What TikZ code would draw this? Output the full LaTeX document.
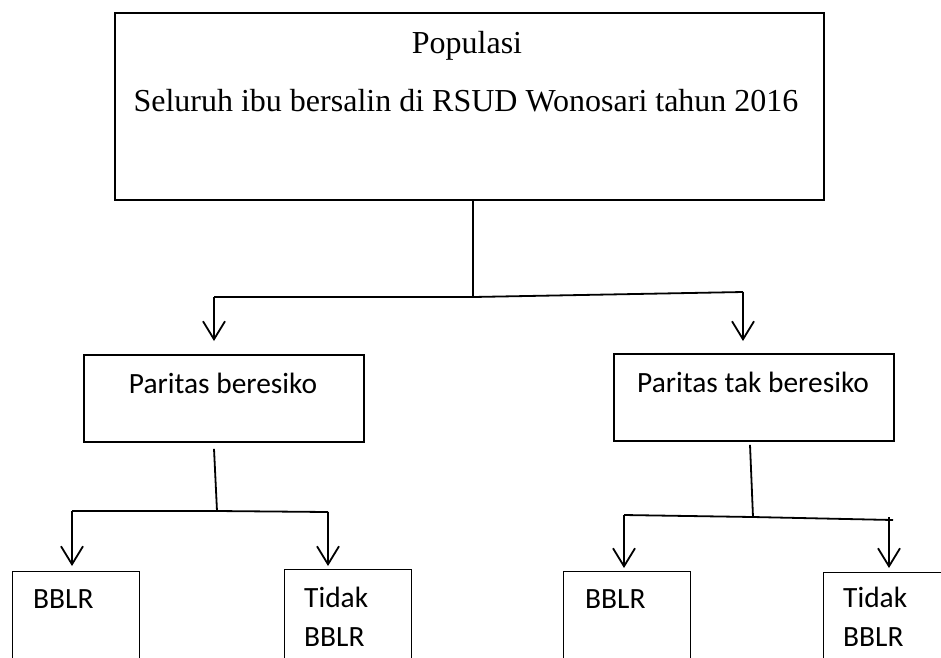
\documentclass[tikz,border=0pt]{standalone}
\usepackage{fontspec}
\setmainfont{Liberation Serif}
\newfontfamily\calib{Carlito}
\usetikzlibrary{arrows.meta}
\begin{document}
\begin{tikzpicture}[x=1pt,y=-1pt,
  boxline/.style={draw,line width=1.8pt},
  conn/.style={line width=1.8pt},
  arr/.style={line width=1.8pt,-{Straight Barb[length=18pt,width=22pt,line width=1.8pt]}},
  serift/.style={inner sep=0pt,font=\fontsize{32}{38}\selectfont},
  sanst/.style={inner sep=0pt,font=\calib\fontsize{29.4}{35}\selectfont}]
\useasboundingbox (0,0) rectangle (941,657);
\clip (0,0) rectangle (941,657);
\fill[white] (0,0) rectangle (941,657);
% top box
\node[boxline,minimum width=709pt,minimum height=187pt,anchor=north west,inner sep=0pt] (top) at (114,12) {};
\node[serift,anchor=base] (tpop) at (467,53) {Populasi};
\node[serift,anchor=base] (tsel) at (466,111) {Seluruh ibu bersalin di RSUD Wonosari tahun 2016};
% level 2 boxes
\node[boxline,minimum width=280pt,minimum height=87pt,anchor=north west,inner sep=0pt] (pb) at (83,354) {};
\node[sanst,anchor=base] (tpb) at (223,393) {Paritas beresiko};
\node[boxline,minimum width=280pt,minimum height=87pt,anchor=north west,inner sep=0pt] (ptb) at (613,353) {};
\node[sanst,anchor=base] (tptb) at (753,392) {Paritas tak beresiko};
% level 3 boxes
\node[boxline,line width=1.2pt,minimum width=127pt,minimum height=120pt,anchor=north west,inner sep=0pt] (b1) at (12,571) {};
\node[sanst,anchor=base west] (tb1) at (33,608) {BBLR};
\node[boxline,line width=1.2pt,minimum width=127pt,minimum height=120pt,anchor=north west,inner sep=0pt] (t1) at (284,569) {};
\node[sanst,anchor=base west] (tt1a) at (304,607) {Tidak};
\node[sanst,anchor=base west] (tt1b) at (304,646) {BBLR};
\node[boxline,line width=1.2pt,minimum width=127pt,minimum height=120pt,anchor=north west,inner sep=0pt] (b2) at (563,571) {};
\node[sanst,anchor=base west] (tb2) at (585,608) {BBLR};
\node[boxline,line width=1.2pt,minimum width=140pt,minimum height=120pt,anchor=north west,inner sep=0pt] (t2) at (823,572) {};
\node[sanst,anchor=base west] (tt2a) at (843,607) {Tidak};
\node[sanst,anchor=base west] (tt2b) at (843,646) {BBLR};
% junction coordinates
\coordinate (s0) at (473,202);
\coordinate (j0) at (473,297);
\coordinate (j0l) at (214,297);
\coordinate (j0r) at (743,292);
\coordinate (e0l) at (214,341);
\coordinate (e0r) at (743,341);
\coordinate (s1) at (214,447);
\coordinate (j1) at (217,511);
\coordinate (j1l) at (72,511);
\coordinate (j1r) at (328,512);
\coordinate (e1l) at (72,566);
\coordinate (e1r) at (328,566);
\coordinate (s2) at (750,443);
\coordinate (j2) at (753,517);
\coordinate (j2l) at (624,515);
\coordinate (j2r) at (893,520);
\coordinate (j2rr) at (889,517);
\coordinate (e2l) at (624,568);
\coordinate (e2r) at (889,568);
% connectors
\draw[conn] (top.south -| s0) -- (j0);
\draw[conn] (j0l) -- (j0) -- (j0r);
\draw[arr] (j0l) -- (e0l);
\draw[arr] (j0r) -- (e0r);
\draw[conn] (pb.south -| s1) ++(0,6) -- (j1);
\draw[conn] (j1l) -- (j1) -- (j1r);
\draw[arr] (j1l) -- (e1l);
\draw[arr] (j1r) -- (e1r);
\draw[conn] (ptb.south -| s2) ++(0,3) -- (j2);
\draw[conn] (j2l) -- (j2) -- (j2r);
\draw[arr] (j2l) -- (e2l);
\draw[arr] (j2rr) -- (e2r);
\end{tikzpicture}
\end{document}
